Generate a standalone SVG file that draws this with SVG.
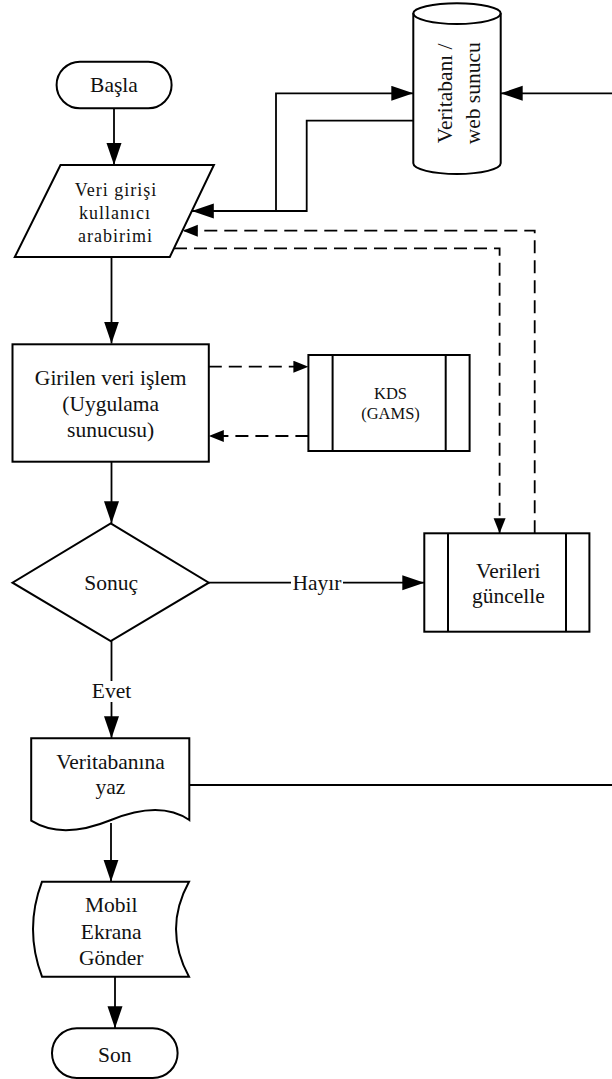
<svg xmlns="http://www.w3.org/2000/svg" width="612" height="1079" viewBox="0 0 612 1079">
<style>
.s{fill:#fff;stroke:#000;stroke-width:2}
.l{fill:none;stroke:#000;stroke-width:2}
.t{font-family:'Liberation Serif','Times New Roman',Times,'DejaVu Serif',serif;font-size:21.5px;fill:#111;text-anchor:middle}
.sm{font-size:18px;letter-spacing:1px}
.xs{font-size:16.5px}
.c{fill:none;stroke:#000;stroke-width:1.8}
.d{stroke-dasharray:13 7}
</style>
<defs>
<marker id="ah" markerUnits="userSpaceOnUse" markerWidth="23" markerHeight="16" refX="22" refY="7.5" orient="auto">
<path d="M0,0 L22,7.5 L0,15 z" fill="#000"/>
</marker>
<marker id="ad" markerUnits="userSpaceOnUse" markerWidth="16" markerHeight="13" refX="15" refY="6" orient="auto">
<path d="M0,0 L15,6 L0,12 z" fill="#000"/>
</marker>
</defs>
<rect width="612" height="1079" fill="#fff"/>

<g id="connectors">
<path class="c" d="M114,108.3 V165" marker-end="url(#ah)"/>
<path class="c" d="M111.5,257 V343.5" marker-end="url(#ah)"/>
<path class="c" d="M111.5,461.7 V523.3" marker-end="url(#ah)"/>
<path class="c" d="M111.5,641 V738.3" marker-end="url(#ah)"/>
<path class="c" d="M111,823 V881.7" marker-end="url(#ah)"/>
<path class="c" d="M115,976.7 V1028.3" marker-end="url(#ah)"/>
<path class="c" d="M208.8,582.7 H424.3" marker-end="url(#ah)"/>
<path class="c d" d="M208.8,366.7 H308.4" marker-end="url(#ad)"/>
<path class="c d" d="M308.4,436 H208.8" marker-end="url(#ad)"/>
<path class="c d" d="M534.7,533.3 V230.7 H182.8" marker-end="url(#ad)"/>
<path class="c d" d="M174,248.3 H499.6 V533.3" marker-end="url(#ad)"/>
<path class="c" d="M191.8,211 H276 V93.3 H413.3" marker-end="url(#ah)"/>
<path class="c" d="M413.3,120.7 H306.7 V211 H191.8" marker-end="url(#ah)"/>
<path class="c" d="M612,93.3 H500.7" marker-end="url(#ah)"/>
<path class="c" d="M189.3,785 H612"/>
<rect x="88" y="681" width="47" height="21" fill="#fff"/>
<text class="t" x="111.5" y="698">Evet</text>
<rect x="291" y="572" width="52" height="22" fill="#fff"/>
<text class="t" x="317" y="590">Hayır</text>
</g>

<g id="basla">
<rect class="s" x="56.6" y="61.7" width="115" height="46.6" rx="23.3"/>
<text class="t" x="114" y="92">Başla</text>
</g>

<g id="veri-girisi">
<polygon class="s" points="60.5,165 213.9,165 169.8,257 14.8,257"/>
<text class="t sm" x="116" y="196">Veri girişi</text>
<text class="t sm" x="115" y="219">kullanıcı</text>
<text class="t sm" x="115.5" y="241.5">arabirimi</text>
</g>

<g id="veritabani">
<path class="s" d="M413.3,13.3 A43.7,10 0 0 1 500.7,13.3 V163.3 A43.7,10.7 0 0 1 413.3,163.3 Z"/>
<path class="l" d="M413.3,13.3 A43.7,10.7 0 0 0 500.7,13.3"/>
<text class="t" transform="translate(451.7,93.3) rotate(-90)">Veritabanı /</text>
<text class="t" transform="translate(480,93.3) rotate(-90)">web sunucu</text>
</g>

<g id="girilen">
<rect class="s" x="12.5" y="344.3" width="196.3" height="117.4"/>
<text class="t" x="110.7" y="384.5">Girilen veri işlem</text>
<text class="t" x="110.7" y="410.5">(Uygulama</text>
<text class="t" x="110.7" y="437">sunucusu)</text>
</g>

<g id="kds">
<rect class="s" x="308.4" y="355" width="161.2" height="96"/>
<path class="l" d="M332.6,355 V451 M445.7,355 V451"/>
<text class="t xs" x="390.5" y="399.2">KDS</text>
<text class="t xs" x="390.5" y="419">(GAMS)</text>
</g>

<g id="sonuc">
<polygon class="s" points="110.7,523.3 208.8,582.7 110.7,641 12.5,582.7"/>
<text class="t" x="111.2" y="590">Sonuç</text>
</g>

<g id="verileri">
<rect class="s" x="424.3" y="533.3" width="165.1" height="98.4"/>
<path class="l" d="M448,533.3 V631.7 M566,533.3 V631.7"/>
<text class="t" x="508.3" y="577.5">Verileri</text>
<text class="t" x="508.3" y="603">güncelle</text>
</g>

<g id="veritabanina">
<path class="s" d="M31.2,738.3 H189.3 V820 Q160,800 111,820 T31.2,820.7 Z"/>
<text class="t" x="110.5" y="768.5">Veritabanına</text>
<text class="t" x="110.5" y="794">yaz</text>
</g>

<g id="mobil">
<path class="s" d="M42,881.7 H189 Q163,929.2 189,976.7 H42 Q24,929.2 42,881.7 Z"/>
<text class="t" x="111.2" y="912">Mobil</text>
<text class="t" x="111.2" y="938.5">Ekrana</text>
<text class="t" x="111.2" y="965">Gönder</text>
</g>

<g id="son">
<rect class="s" x="52" y="1028.3" width="125.6" height="49.7" rx="24.8"/>
<text class="t" x="114.8" y="1062">Son</text>
</g>
</svg>
